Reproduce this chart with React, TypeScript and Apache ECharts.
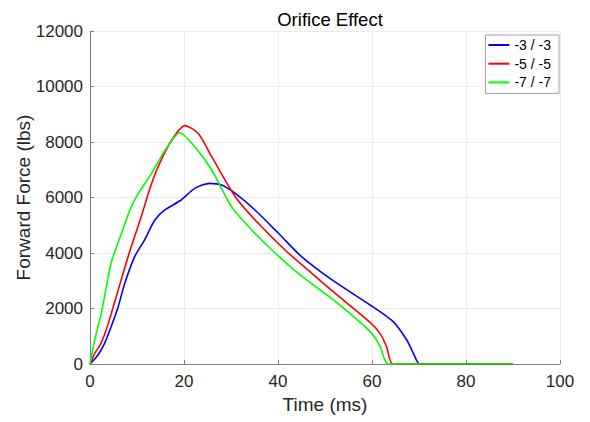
import React, { useEffect, useRef } from "react";
import * as echarts from "echarts";

const seriesNames = ["-3 / -3", "-5 / -5", "-7 / -7"];
const seriesColors = ["#0000ff", "#ff0000", "#00ff00"];

const blueTime = [0, 1.7, 3.1, 4.5, 6, 7.4, 9.5, 11.6, 13.8, 15.9, 19.4, 22.3, 25.5, 28, 30.9, 35.1, 40.1, 45, 51.5, 59.6, 64.5, 67.4, 68.8, 70.2, 90];
const blueForce = [0, 324, 745, 1345, 2066, 2906, 3868, 4468, 5190, 5550, 5910, 6330, 6510, 6450, 6150, 5550, 4710, 3870, 3030, 2126, 1525, 865, 385, 0, 0];

const redTime = [0, 1, 2.2, 3.3, 4.5, 6, 8.1, 10.9, 12.7, 14.5, 17.4, 20.2, 23, 25.9, 30.9, 35.8, 41.5, 47.2, 52, 59.6, 61.7, 63.1, 64.5, 90];
const redForce = [0, 385, 700, 1150, 1800, 2666, 3868, 5310, 6300, 7110, 8072, 8590, 8313, 7470, 6030, 5070, 4108, 3268, 2570, 1500, 1105, 625, 0, 0];

const greenTime = [0, 1, 2.4, 3.5, 4.5, 6.7, 8.8, 10.5, 13.1, 16, 19.1, 22.3, 25.9, 30.1, 34.4, 38.7, 44.3, 52, 59.6, 61.7, 63.5, 90];
const greenForce = [0, 865, 1826, 2786, 3648, 4710, 5670, 6200, 6870, 7711, 8336, 7830, 6990, 5670, 4830, 4108, 3268, 2280, 1165, 650, 0, 0];

const allTimes = [blueTime, redTime, greenTime];
const allForces = [blueForce, redForce, greenForce];

const FONT = "'Liberation Sans', Arial, Helvetica, sans-serif";

export default function App() {
  const ref = useRef<HTMLDivElement>(null);
  useEffect(() => {
    if (!ref.current) return;
    const chart = echarts.init(ref.current, undefined, { renderer: "svg" });
    const series = seriesNames.map((name, i) => ({
      name,
      type: "line",
      data: allTimes[i].map((t, j) => [t, allForces[i][j]]),
      showSymbol: false,
      smooth: 0.25,
      lineStyle: { color: seriesColors[i], width: 1.6 },
      itemStyle: { color: seriesColors[i] },
    }));
    chart.setOption({
      animation: false,
      backgroundColor: "#ffffff",
      textStyle: { fontFamily: FONT },
      title: {
        text: "Orifice Effect",
        left: 325,
        textAlign: "center",
        top: 5,
        textStyle: { fontFamily: FONT, fontSize: 18.5, fontWeight: "normal", color: "#000000" },
      },
      legend: {
        data: seriesNames,
        orient: "vertical",
        right: 31,
        top: 35,
        icon: "rect",
        itemWidth: 21,
        itemHeight: 2,
        itemGap: 4.7,
        padding: [3, 8, 4, 3],
        borderColor: "#a0a0a0",
        borderWidth: 1,
        backgroundColor: "#ffffff",
        textStyle: { fontFamily: FONT, fontSize: 14, color: "#000000" },
      },
      grid: { left: 90, right: 30, top: 31, bottom: 58, containLabel: false, outerBoundsMode: "none" },
      xAxis: {
        type: "value",
        min: 0,
        max: 100,
        interval: 20,
        name: "Time (ms)",
        nameLocation: "middle",
        nameGap: 31,
        nameMoveOverlap: false,
        nameTextStyle: { fontFamily: FONT, fontSize: 19, color: "#262626" },
        axisLine: { show: true, lineStyle: { color: "#808080", width: 1 } },
        axisTick: { show: true, inside: true, length: 4, lineStyle: { color: "#808080" } },
        axisLabel: { fontFamily: FONT, fontSize: 17, color: "#262626", margin: 9, formatter: (v: number) => String(v) },
        splitLine: { show: true, lineStyle: { color: "#ebebeb", width: 1 } },
      },
      yAxis: {
        type: "value",
        min: 0,
        max: 12000,
        interval: 2000,
        name: "Forward Force (lbs)",
        nameLocation: "middle",
        nameGap: 57,
        nameMoveOverlap: false,
        nameTextStyle: { fontFamily: FONT, fontSize: 19, color: "#262626" },
        axisLine: { show: true, lineStyle: { color: "#808080", width: 1 } },
        axisTick: { show: true, inside: true, length: 4, lineStyle: { color: "#808080" } },
        axisLabel: { fontFamily: FONT, fontSize: 17, color: "#262626", margin: 7, formatter: (v: number) => String(v) },
        splitLine: { show: true, lineStyle: { color: "#ebebeb", width: 1 } },
      },
      series,
    });
    return () => chart.dispose();
  }, []);
  return <div ref={ref} style={{ width: 590, height: 422, position: "absolute", left: 0, top: 0 }} />;
}
